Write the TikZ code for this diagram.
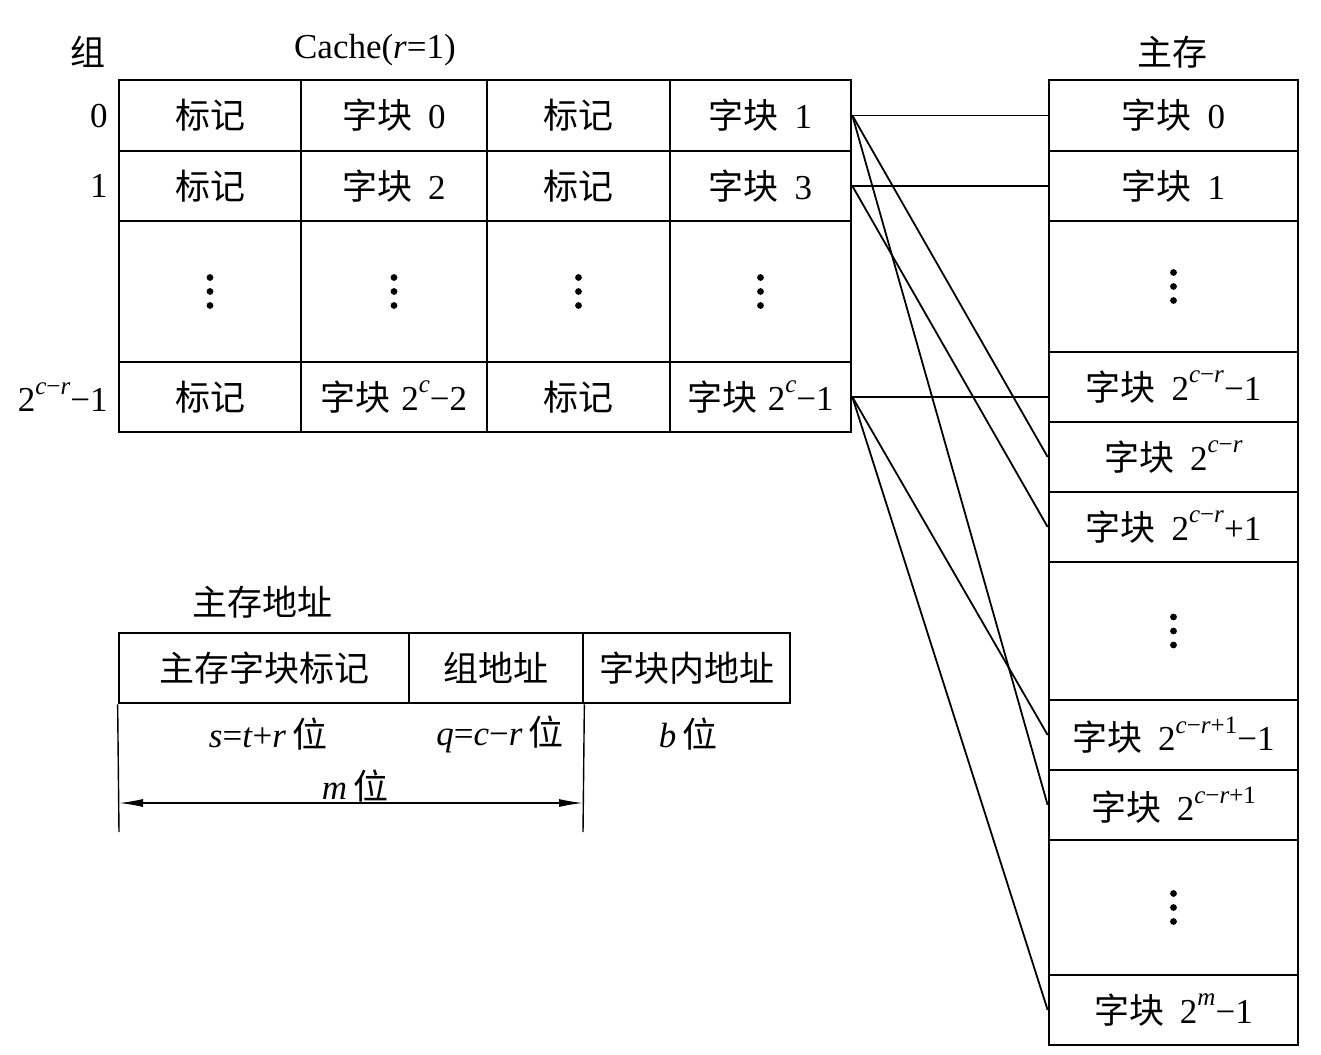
\documentclass[tikz,border=0pt]{standalone}
\usepackage{fontspec}
\setmainfont{Liberation Serif}
\newfontfamily\cjk{Noto Sans CJK SC}
\usetikzlibrary{arrows.meta}
\newcommand{\zk}{{\cjk 字块}\hspace{0.45em}}
\newcommand{\bj}{{\cjk 标记}}
\newcommand{\ti}[1]{\textit{#1}}
\newcommand{\sps}[1]{\raisebox{0.5em}{\fontsize{12.5}{13}\selectfont #1}}
\newcommand{\mn}{−}
\tikzset{
  cellst/.style={draw, line width=1.35pt, inner sep=0pt, font=\fontsize{17.5}{21}\selectfont},
  lbl/.style={inner sep=0pt, font=\fontsize{17.5}{21}\selectfont},
  conn/.style={line width=0.9pt},
  thin/.style={line width=0.7pt},
  dotst/.style={fill=black},
}
\newcommand{\cellbox}[6]{\node[cellst, minimum width={(#4-#2)*0.5pt}, minimum height={(#5-#3)*0.5pt}] (#1) at ({(#2+#4)/2},{(#3+#5)/2}) {#6};}
\newcommand{\vdd}[1]{\foreach \dd in {-14,0,14} \fill[dotst] ([yshift=\dd*0.5pt]#1.center) circle (1.7pt);}
\begin{document}
\begin{tikzpicture}[x=0.5pt,y=-0.5pt]
\useasboundingbox (0,0) rectangle (1321,1054);
% headings
\node[lbl] (hz) at (88,52) {\cjk 组};
\node[lbl] (hc) at (375,50) {Cache(\ti{r}=1)};
\node[lbl] (hm) at (1172,52) {\cjk 主存};
% group labels
\node[lbl, anchor=east] (g0) at (108,116) {0};
\node[lbl, anchor=east] (g1) at (108,186) {1};
\node[lbl, anchor=east] (g3) at (108,397) {2\sps{\ti{c}\mn\ti{r}}\mn1};
% cache
\cellbox{c00}{119}{80}{301}{151}{\bj}
\cellbox{c01}{301}{80}{487}{151}{\zk 0}
\cellbox{c02}{487}{80}{670}{151}{\bj}
\cellbox{c03}{670}{80}{851}{151}{\zk 1}
\cellbox{c10}{119}{151}{301}{221}{\bj}
\cellbox{c11}{301}{151}{487}{221}{\zk 2}
\cellbox{c12}{487}{151}{670}{221}{\bj}
\cellbox{c13}{670}{151}{851}{221}{\zk 3}
\cellbox{c20}{119}{221}{301}{362}{}
\cellbox{c21}{301}{221}{487}{362}{}
\cellbox{c22}{487}{221}{670}{362}{}
\cellbox{c23}{670}{221}{851}{362}{}
\cellbox{c30}{119}{362}{301}{432}{\bj}
\cellbox{c31}{301}{362}{487}{432}{{\cjk 字块}\hspace{0.3em}2\sps{\ti{c}}\mn2}
\cellbox{c32}{487}{362}{670}{432}{\bj}
\cellbox{c33}{670}{362}{851}{432}{{\cjk 字块}\hspace{0.3em}2\sps{\ti{c}}\mn1}
\vdd{c20}\vdd{c21}\vdd{c22}\vdd{c23}
% main memory
\cellbox{m0}{1049}{80}{1298}{151}{\zk 0}
\cellbox{m1}{1049}{151}{1298}{221}{\zk 1}
\cellbox{m2}{1049}{221}{1298}{352}{}
\cellbox{m3}{1049}{352}{1298}{422}{\zk 2\sps{\ti{c}\mn\ti{r}}\mn1}
\cellbox{m4}{1049}{422}{1298}{492}{\zk 2\sps{\ti{c}\mn\ti{r}}}
\cellbox{m5}{1049}{492}{1298}{562}{\zk 2\sps{\ti{c}\mn\ti{r}}+1}
\cellbox{m6}{1049}{562}{1298}{700}{}
\cellbox{m7}{1049}{700}{1298}{770}{\zk 2\sps{\ti{c}\mn\ti{r}+1}\mn1}
\cellbox{m8}{1049}{770}{1298}{840}{\zk 2\sps{\ti{c}\mn\ti{r}+1}}
\cellbox{m9}{1049}{840}{1298}{975}{}
\cellbox{m10}{1049}{975}{1298}{1045}{\zk 2\sps{\ti{m}}\mn1}
\vdd{m2}\vdd{m6}\vdd{m9}
% connectors
\draw[conn] (c03.east) -- (m0.west);
\draw[conn] (c03.east) -- (m4.west);
\draw[conn] (c03.east) -- (m8.west);
\draw[conn] (c13.east) -- (m1.west);
\draw[conn] (c13.east) -- (m5.west);
\draw[conn] (c33.east) -- (c33.east -| m3.west);
\draw[conn] (c33.east) -- (m7.west);
\draw[conn] (c33.east) -- (m10.west);
% address format
\node[lbl] (ha) at (262,602) {\cjk 主存地址};
\cellbox{a1}{119}{633}{409}{703}{\cjk 主存字块标记}
\cellbox{a2}{409}{633}{583}{703}{\cjk 组地址}
\cellbox{a3}{583}{633}{790}{703}{\cjk 字块内地址}
\node[lbl] (s1) at (268,734) {\ti{s}=\ti{t}+\ti{r}\,{\cjk 位}};
\node[lbl] (s2) at (500,734) {\ti{q}=\ti{c}\mn\ti{r}\,{\cjk 位}};
\node[lbl] (s3) at (688,734) {\ti{b}\,{\cjk 位}};
\coordinate (l1) at (119,832);
\coordinate (l2) at (583,832);
\coordinate (r1) at (119,803);
\coordinate (r2) at (583,803);
\draw[thin] (a1.south west) -- (l1);
\draw[thin] (a2.south east) -- (l2);
\draw[thin, {Latex[length=12pt,width=4pt]}-{Latex[length=12pt,width=4pt]}] (r1) -- (r2);
\node[lbl] (mw) at (355,786) {\ti{m}\,{\cjk 位}};
\end{tikzpicture}
\end{document}
